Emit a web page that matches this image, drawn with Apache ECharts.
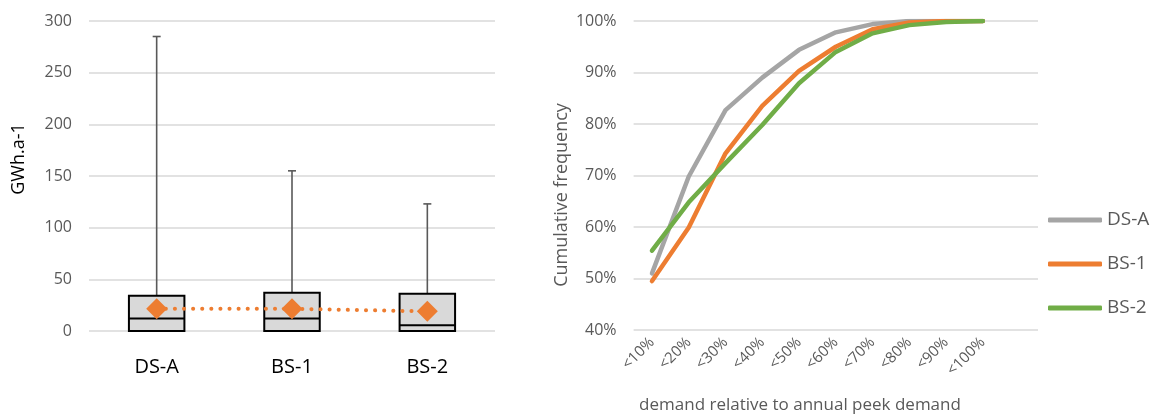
<!DOCTYPE html>
<html>
<head>
<meta charset="utf-8">
<script src="https://cdn.jsdelivr.net/npm/echarts@6/dist/echarts.min.js"></script>
<style>html,body{margin:0;padding:0;background:#fff;}#c{width:1155px;height:420px;}</style>
</head>
<body>
<div id="c"></div>
<script>
// ---- Left chart: box plot data (GWh.a-1) ----
const boxCategories = ['DS-A', 'BS-1', 'BS-2'];
const boxMin    = [0, 0, 0];
const boxQ1     = [0, 0, 0];
const boxMedian = [12, 12, 5.5];
const boxQ3     = [34, 37, 36];
const boxMax    = [285, 155, 123];
const boxMean   = [21.5, 21.5, 19];
const leftTicks = { min: 0, max: 300, interval: 50 };

// ---- Right chart: cumulative frequency (%) ----
const cdfCategories = ['<10%', '<20%', '<30%', '<40%', '<50%', '<60%', '<70%', '<80%', '<90%', '<100%', ''];
const seriesDSA = [51.0, 69.8, 82.7, 89.0, 94.4, 97.8, 99.4, 100, 100, 100];
const seriesBS1 = [49.5, 59.9, 74.3, 83.5, 90.3, 95.0, 98.4, 99.7, 100, 100];
const seriesBS2 = [55.4, 64.8, 72.4, 79.8, 87.9, 94.0, 97.6, 99.2, 99.8, 100];
const rightTicks = { min: 40, max: 100, interval: 10 };

const FONT = 'Open Sans';
const GRAY = '#595959';
const GRID = '#d9d9d9';

const boxData = boxCategories.map((c, i) => [i, boxMin[i], boxQ1[i], boxMedian[i], boxQ3[i], boxMax[i]]);

const chart = echarts.init(document.getElementById('c'), null, { renderer: 'canvas' });
chart.setOption({
  animation: false,
  textStyle: { fontFamily: FONT },
  grid: [
    { left: 89, right: 660, top: 21, bottom: 89 },
    { left: 633.6, right: 117, top: 21, bottom: 90 }
  ],
  xAxis: [
    {
      gridIndex: 0, type: 'category', data: boxCategories,
      axisLine: { show: false }, axisTick: { show: false },
      axisLabel: { color: '#000', fontSize: 20, fontFamily: FONT, margin: 26 }
    },
    {
      gridIndex: 1, type: 'category', data: cdfCategories, boundaryGap: true,
      axisLine: { show: false }, axisTick: { show: false },
      axisLabel: { color: GRAY, fontSize: 15, fontFamily: FONT, rotate: 45, margin: 10, interval: 0 }
    }
  ],
  yAxis: [
    {
      gridIndex: 0, type: 'value', min: leftTicks.min, max: leftTicks.max, interval: leftTicks.interval,
      axisLine: { show: false }, axisTick: { show: false },
      axisLabel: { color: GRAY, fontSize: 16, fontFamily: FONT, margin: 17 },
      splitLine: { lineStyle: { color: GRID, width: 1.5 } }
    },
    {
      gridIndex: 1, type: 'value', min: rightTicks.min, max: rightTicks.max, interval: rightTicks.interval,
      axisLine: { show: false }, axisTick: { show: false },
      axisLabel: { color: GRAY, fontSize: 16, fontFamily: FONT, margin: 17, formatter: '{value}%' },
      splitLine: { lineStyle: { color: GRID, width: 1.5 } }
    }
  ],
  legend: {
    orient: 'vertical', left: 1048, top: 206, padding: 0,
    data: ['DS-A', 'BS-1', 'BS-2'],
    icon: 'roundRect', itemWidth: 54, itemHeight: 5, itemGap: 16,
    textStyle: { color: GRAY, fontSize: 19, fontFamily: FONT, lineHeight: 28 }
  },
  graphic: [
    { type: 'text', rotation: Math.PI / 2, x: 19, y: 159,
      style: { text: 'GWh.a-1', fill: '#000', font: '18px "Open Sans"', align: 'center', verticalAlign: 'middle' } },
    { type: 'text', rotation: Math.PI / 2, x: 562, y: 195,
      style: { text: 'Cumulative frequency', fill: GRAY, font: '18px "Open Sans"', align: 'center', verticalAlign: 'middle' } },
    { type: 'text', x: 800, y: 405,
      style: { text: 'demand relative to annual peek demand', fill: GRAY, font: '17px "Open Sans"', align: 'center', verticalAlign: 'middle' } }
  ],
  series: [
    {
      type: 'custom', xAxisIndex: 0, yAxisIndex: 0, data: boxData,
      encode: { x: 0, y: [1, 2, 3, 4, 5] }, z: 2,
      renderItem: function (params, api) {
        const xi = api.value(0);
        const pMin = api.coord([xi, api.value(1)]);
        const pQ1 = api.coord([xi, api.value(2)]);
        const pMed = api.coord([xi, api.value(3)]);
        const pQ3 = api.coord([xi, api.value(4)]);
        const pMax = api.coord([xi, api.value(5)]);
        const bw = api.size([1, 0])[0] * 0.41;
        const cx = pMed[0];
        const wStyle = { stroke: '#595959', lineWidth: 1.6 };
        return {
          type: 'group',
          children: [
            { type: 'line', shape: { x1: cx, y1: pQ3[1], x2: cx, y2: pMax[1] }, style: wStyle },
            { type: 'line', shape: { x1: cx - 4, y1: pMax[1], x2: cx + 4, y2: pMax[1] }, style: wStyle },
            { type: 'line', shape: { x1: cx, y1: pMin[1], x2: cx, y2: pQ1[1] }, style: wStyle },
            { type: 'rect', shape: { x: cx - bw / 2, y: pQ3[1], width: bw, height: pQ1[1] - pQ3[1] },
              style: { fill: '#d9d9d9', stroke: '#000', lineWidth: 2 } },
            { type: 'line', shape: { x1: cx - bw / 2, y1: pMed[1], x2: cx + bw / 2, y2: pMed[1] },
              style: { stroke: '#000', lineWidth: 2 } }
          ]
        };
      }
    },
    {
      type: 'line', xAxisIndex: 0, yAxisIndex: 0, data: boxMean, z: 3,
      symbol: 'diamond', symbolSize: 21, showSymbol: true,
      itemStyle: { color: '#ed7d31' },
      lineStyle: { color: '#ed7d31', width: 4, type: [0.1, 9], cap: 'round' }
    },
    {
      name: 'DS-A', type: 'line', xAxisIndex: 1, yAxisIndex: 1, data: seriesDSA,
      showSymbol: false, symbol: 'none', color: '#a5a5a5',
      lineStyle: { color: '#a5a5a5', width: 4.5, cap: 'round', join: 'round' }
    },
    {
      name: 'BS-1', type: 'line', xAxisIndex: 1, yAxisIndex: 1, data: seriesBS1,
      showSymbol: false, symbol: 'none', color: '#ed7d31',
      lineStyle: { color: '#ed7d31', width: 4.5, cap: 'round', join: 'round' }
    },
    {
      name: 'BS-2', type: 'line', xAxisIndex: 1, yAxisIndex: 1, data: seriesBS2,
      showSymbol: false, symbol: 'none', color: '#70ad47',
      lineStyle: { color: '#70ad47', width: 4.5, cap: 'round', join: 'round' }
    }
  ]
});
</script>
</body>
</html>
